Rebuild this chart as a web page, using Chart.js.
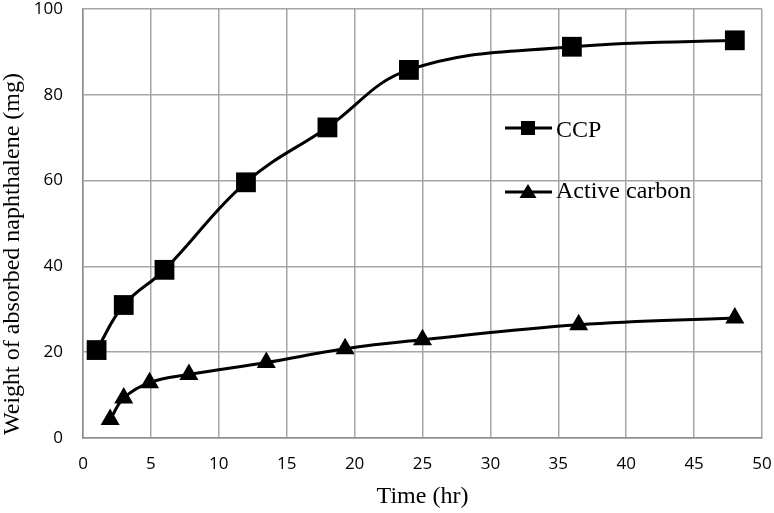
<!DOCTYPE html>
<html>
<head>
<meta charset="utf-8">
<script src="https://cdn.jsdelivr.net/npm/chart.js@4/dist/chart.umd.min.js"></script>
<style>
  body { margin: 0; background: #fff; }
  #chart { display: block; }
</style>
</head>
<body>
<canvas id="chart" width="774" height="513"></canvas>
<script>
const timeCCP = [1, 3, 6, 12, 18, 24, 36, 48];
const ccpValues = [20.5, 31, 39.2, 59.6, 72.4, 85.8, 91.2, 92.7];

const timeCarbon = [2, 3, 4.9, 7.8, 13.5, 19.3, 25, 36.5, 48];
const carbonValues = [4.3, 9.3, 12.9, 14.8, 17.6, 20.8, 22.9, 26.4, 28.0];

const xTicks = [0, 5, 10, 15, 20, 25, 30, 35, 40, 45, 50];
const yTicks = [0, 20, 40, 60, 80, 100];

const xTitle = 'Time (hr)';
const yTitle = 'Weight of absorbed naphthalene (mg)';
const seriesNames = ['CCP', 'Active carbon'];

const gridColor = '#a6a6a6';
const serif = '"Liberation Serif", "Times New Roman", serif';

function toPoints(xs, ys) {
    return xs.map((x, i) => ({ x: x, y: ys[i] }));
}

// axis titles and the legend sit at fixed spots, so draw them by hand
const extrasPlugin = {
    id: 'extras',
    afterDraw(chart) {
        const ctx = chart.ctx;
        const area = chart.chartArea;
        ctx.save();
        ctx.fillStyle = '#000';
        ctx.font = '24px ' + serif;
        ctx.textAlign = 'center';
        ctx.textBaseline = 'middle';
        ctx.fillText(xTitle, (area.left + area.right) / 2, 497);

        ctx.translate(13, 254);
        ctx.rotate(-Math.PI / 2);
        ctx.fillText(yTitle, 0, 0);
        ctx.restore();

        // legend
        const rows = [
            { y: 128, base: 137, style: 'rect' },
            { y: 192, base: 198, style: 'triangle' }
        ];
        ctx.save();
        rows.forEach((r, i) => {
            ctx.strokeStyle = '#000';
            ctx.lineWidth = 3;
            ctx.beginPath();
            ctx.moveTo(505, r.y);
            ctx.lineTo(552, r.y);
            ctx.stroke();
            ctx.fillStyle = '#000';
            if (r.style === 'rect') {
                ctx.fillRect(528 - 7, r.y - 7, 14, 14);
            } else {
                ctx.beginPath();
                ctx.moveTo(528, r.y - 8);
                ctx.lineTo(536.5, r.y + 6);
                ctx.lineTo(519.5, r.y + 6);
                ctx.closePath();
                ctx.fill();
            }
            ctx.font = '24px ' + serif;
            ctx.textAlign = 'left';
            ctx.textBaseline = 'alphabetic';
            ctx.fillText(seriesNames[i], 556, r.base);
        });
        ctx.restore();
    }
};

new Chart(document.getElementById('chart'), {
    type: 'line',
    data: {
        datasets: [
            {
                label: seriesNames[0],
                data: toPoints(timeCCP, ccpValues),
                borderColor: '#000',
                backgroundColor: '#000',
                borderWidth: 3,
                tension: 0.4,
                pointStyle: 'rect',
                pointRadius: 14,
                pointBorderWidth: 0
            },
            {
                label: seriesNames[1],
                data: toPoints(timeCarbon, carbonValues),
                borderColor: '#000',
                backgroundColor: '#000',
                borderWidth: 3,
                tension: 0.4,
                pointStyle: 'triangle',
                pointRadius: 11,
                pointBorderWidth: 0
            }
        ]
    },
    options: {
        responsive: false,
        animation: false,
        layout: { autoPadding: false, padding: { top: 9, right: 12, left: 0, bottom: 0 } },
        plugins: {
            legend: { display: false },
            tooltip: { enabled: false }
        },
        scales: {
            x: {
                type: 'linear',
                min: 0,
                max: 50,
                afterFit: (scale) => {
                    scale.height = 75;
                    scale.paddingLeft = 0;
                    scale.paddingRight = 0;
                },
                afterBuildTicks: (scale) => { scale.ticks = xTicks.map(v => ({ value: v })); },
                ticks: {
                    color: '#000',
                    padding: 16,
                    font: { family: '"Open Sans", sans-serif', size: 17 }
                },
                grid: { color: gridColor, lineWidth: 1.5, drawTicks: false },
                border: { color: '#8c8c8c', width: 1.5 }
            },
            y: {
                min: 0,
                max: 100,
                afterFit: (scale) => {
                    scale.width = 83;
                    scale.paddingTop = 0;
                    scale.paddingBottom = 0;
                },
                afterBuildTicks: (scale) => { scale.ticks = yTicks.map(v => ({ value: v })); },
                ticks: {
                    color: '#000',
                    padding: 20,
                    font: { family: '"Open Sans", sans-serif', size: 17 }
                },
                grid: { color: gridColor, lineWidth: 1.5, drawTicks: false },
                border: { color: '#8c8c8c', width: 1.5 }
            }
        }
    },
    plugins: [extrasPlugin]
});
</script>
</body>
</html>
